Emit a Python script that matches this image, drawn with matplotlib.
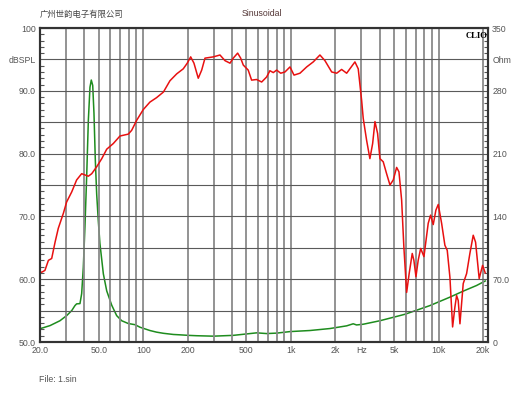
import matplotlib
matplotlib.use("Agg")
import matplotlib.pyplot as plt
from matplotlib.ticker import FixedLocator, NullFormatter

# ---- data ----
spl_freq = [20.0, 20.5, 21.6, 22.8, 24.0, 25.3, 26.6, 28.8, 30.3, 32.8, 35.4, 38.3, 40.3, 42.5,
            44.8, 48.4, 52.4, 56.6, 62.7, 69.6, 79.2, 83.5, 90.3, 100, 111, 123, 137, 151.7,
            168.6, 186.7, 198.7, 209.6, 220.6, 235.9, 248.9, 262, 298, 331, 358, 387, 407, 436,
            457, 476, 514, 542, 586, 634, 685, 721, 760, 801, 853, 912, 986, 1050, 1152, 1279,
            1417, 1573, 1701, 1889, 2042, 2206, 2386, 2715, 2858, 3013, 3090, 3258, 3428, 3578,
            3710, 3866, 4009, 4219, 4448, 4688, 4934, 5201, 5393, 5623, 5823, 6081, 6324, 6634,
            6808, 7031, 7278, 7566, 7962, 8511, 8831, 9204, 9594, 9954, 10490, 11040, 11450,
            11940, 12450, 12910, 13250, 13590, 13960, 14690, 15490, 16300, 17170, 17810, 18840,
            19870, 20700]
spl_db = [61.2, 61.1, 61.4, 63.0, 63.3, 65.9, 68.1, 70.5, 72.3, 73.9, 75.8, 76.8, 76.6, 76.4,
          76.8, 77.9, 79.2, 80.7, 81.6, 82.8, 83.1, 83.7, 85.3, 87.0, 88.2, 88.9, 89.8, 91.6,
          92.7, 93.5, 94.4, 95.4, 94.4, 92.0, 93.3, 95.2, 95.4, 95.7, 94.8, 94.4, 95.2, 96.0,
          95.2, 94.1, 93.3, 91.7, 91.8, 91.4, 92.2, 93.2, 92.9, 93.3, 92.8, 93.0, 93.8, 92.5,
          92.8, 93.8, 94.6, 95.7, 94.8, 93.0, 92.8, 93.4, 92.8, 94.6, 93.5, 88.5, 85.6, 82.1,
          79.2, 81.6, 85.1, 83.2, 79.2, 78.7, 76.8, 75.0, 75.8, 77.8, 77.1, 72.6, 65.1, 57.9,
          60.9, 64.1, 63.0, 60.4, 63.0, 64.9, 63.6, 68.9, 70.2, 68.7, 71.0, 71.9, 68.9, 65.4,
          64.6, 60.3, 52.4, 55.6, 57.4, 56.6, 52.9, 59.3, 60.9, 64.1, 67.0, 65.9, 60.1, 62.2,
          61.0]

imp_freq = [20, 23.4, 27.3, 30.3, 32.8, 34.5, 35.4, 37.3, 38.3, 39.3, 40.3, 41.4, 42.5, 43.6,
            44.5, 45.5, 46.4, 47.4, 48.4, 49.6, 50.9, 53.7, 56.6, 61.2, 66.1, 71.5, 79.2, 88,
            95, 111, 123, 137, 160, 177, 202, 230, 298, 407, 502, 586, 685, 801, 986, 1346,
            1838, 2386, 2643, 2785, 3090, 4009, 5920, 8740, 11940, 14690, 18100, 20700]
imp_ohm = [14.8, 18.3, 23.7, 29.4, 35.0, 40.6, 42.5, 42.8, 53.9, 83.5, 128, 184, 247, 284,
           292, 286, 255, 202, 165, 136, 110, 76, 57, 41, 29.4, 23.7, 20.6, 19.3,
           16.5, 12.8, 11.0, 9.7, 8.4, 8.0, 7.4, 7.0, 6.5, 7.4, 9.0, 10.2, 9.4, 9.9, 11.6, 12.8,
           15.0, 18.0, 20.3, 19.0, 19.8, 23.7, 30.9, 40.6, 50.0, 56.7, 63.0, 68.0]

x_ticks = [20, 50, 100, 200, 500, 1000, 2000, 3000, 5000, 10000, 20000]
x_labels = ["20.0", "50.0", "100", "200", "500", "1k", "2k", "Hz", "5k", "10k", "20k"]
x_grid = [30, 40, 60, 70, 80, 90, 300, 400, 600, 700, 800, 900,
          4000, 6000, 7000, 8000, 9000]
y_ticks = [50, 55, 60, 65, 70, 75, 80, 85, 90, 95, 100]
y_labels = ["50.0", "", "60.0", "", "70.0", "", "80.0", "", "90.0", "dBSPL", "100"]
r_ticks = [0, 35, 70, 105, 140, 175, 210, 245, 280, 315, 350]
r_labels = ["0", "", "70.0", "", "140", "", "210", "", "280", "Ohm", "350"]

# ---- figure ----
W, H = 530, 398
fig = plt.figure(figsize=(W / 100, H / 100), dpi=100)
fig.patch.set_facecolor("white")
ax = fig.add_axes([40 / W, 1 - 342 / H, (488 - 40) / W, (342 - 28) / H])
ax2 = ax.twinx()

lab_col = "#555555"
fs = 6.3
font = "Liberation Sans"

ax.set_xscale("log")
ax.set_xlim(20, 21620)
ax.set_ylim(50, 100)
ax2.set_ylim(0, 350)

ax.xaxis.set_major_locator(FixedLocator(x_ticks))
ax.xaxis.set_minor_locator(FixedLocator(x_grid))
ax.xaxis.set_minor_formatter(NullFormatter())
ax.set_xticklabels(x_labels)
ax.set_yticks(y_ticks)
ax.set_yticklabels(y_labels)
ax.yaxis.set_minor_locator(FixedLocator(list(range(50, 101))))
ax2.set_yticks(r_ticks)
ax2.set_yticklabels(r_labels)
ax2.yaxis.set_minor_locator(FixedLocator(list(range(0, 351, 7))))

for a in (ax, ax2):
    a.tick_params(axis="both", which="major", direction="in", length=0, pad=3,
                  labelsize=fs, labelcolor=lab_col)
    a.tick_params(axis="both", which="minor", direction="in", length=3, width=0.8,
                  color="#555555")
    for lab in a.get_xticklabels() + a.get_yticklabels():
        lab.set_fontfamily(font)
ax.tick_params(axis="x", which="minor", length=0)
ax2.tick_params(axis="x", which="both", length=0)

ax.grid(True, axis="x", which="both", color="#8a8a8a", lw=1.3)
ax.grid(True, axis="y", which="major", color="#5a5a5a", lw=0.8)
ax.set_axisbelow(True)

for a in (ax, ax2):
    for s in a.spines.values():
        s.set_color("#333333")
        s.set_linewidth(1.5)

ax2.plot(imp_freq, imp_ohm, color="#1e8c1e", lw=1.1)
ax.plot(spl_freq, spl_db, color="#e81010", lw=1.1)
ax.set_zorder(ax2.get_zorder() + 1)
ax.patch.set_visible(False)
ax2.patch.set_facecolor("white")

ax.text(0.998, 0.986, "CLIO", transform=ax.transAxes, ha="right", va="top",
        fontsize=6.2, fontweight="bold", family="Liberation Serif", color="black")

fig.text(40 / W, 1 - 14 / H, "广州世韵电子有限公司", fontsize=6, color="#444444",
         family=["Noto Sans CJK SC", "DejaVu Sans"], va="center", ha="left")
fig.text(262 / W, 1 - 14 / H, "Sinusoidal", fontsize=fs, color="#553838",
         family=font, va="center", ha="center")
fig.text(39 / W, 1 - 380 / H, "File: 1.sin", fontsize=fs, color="#555555",
         family=font, va="center", ha="left")

fig.savefig("out.png", dpi=100, facecolor="white")
